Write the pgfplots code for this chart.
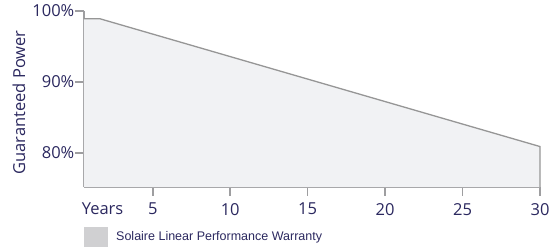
\documentclass[border=0pt]{standalone}
\usepackage{fontspec}
\setmainfont{Open Sans}
\newfontfamily\legfont{Liberation Sans}
\usepackage{pgfplots}
\pgfplotsset{compat=1.18}
\definecolor{navy}{RGB}{43,40,95}
\definecolor{areafill}{RGB}{241,242,244}
\definecolor{lineg}{RGB}{150,150,150}
\definecolor{axg}{RGB}{158,158,160}
\definecolor{legbox}{RGB}{208,208,210}
\begin{document}
\begin{tikzpicture}
\path[use as bounding box] (-84bp,-61bp) rectangle (469bp,187bp);
\begin{axis}[
  at={(0,0)}, anchor=south west,
  scale only axis, width=456bp, height=176bp,
  xmin=0.56, xmax=30, ymin=75.2, ymax=100,
  axis lines=left,
  axis line style={axg, line width=2.4bp, -},
  xtick={5,10,15,20,25,30}, ytick={80,90,100},
  extra x ticks={1.76}, extra x tick labels={Years},
  extra x tick style={major tick length=0pt, xticklabel style={yshift=-8.5bp}},
  tick align=outside, major tick length=8.5bp,
  tick style={axg, line width=1.5bp},
  /pgf/number format/assume math mode=true,
  yticklabel={\pgfmathprintnumber{\tick}\%},
  ticklabel style={font=\fontsize{16.5bp}{18bp}\selectfont, text=navy},
  xticklabel style={inner sep=0bp, yshift=-7.5bp},
  yticklabel style={inner sep=1bp},
  ylabel={Guaranteed Power},
  ylabel style={font=\fontsize{16.5bp}{18bp}\selectfont, text=navy, at={(axis description cs:-0.1425,0.48)}, anchor=center, rotate=0},
  legend style={at={(axis description cs:0,-0.227)}, anchor=north west, draw=none, fill=none, inner sep=0pt, font=\legfont\fontsize{12.5bp}{14bp}\selectfont, text=navy},
  legend cell align=left,
  legend image code/.code={\fill[legbox] (0bp,-10bp) rectangle (24bp,10bp); \path (30bp,0bp);},
  clip=false,
]
\addplot[fill=areafill, draw=none] coordinates {(0.56,75.2) (0.56,98.9) (1.6,98.9) (30,80.9) (30,75.2)} -- cycle;
\addlegendentry{Solaire Linear Performance Warranty}
\addplot[lineg, line width=1.3bp, forget plot] coordinates {(0.56,98.9) (1.6,98.9) (30,80.9) (30,75.2)};
\end{axis}
\end{tikzpicture}
\end{document}
